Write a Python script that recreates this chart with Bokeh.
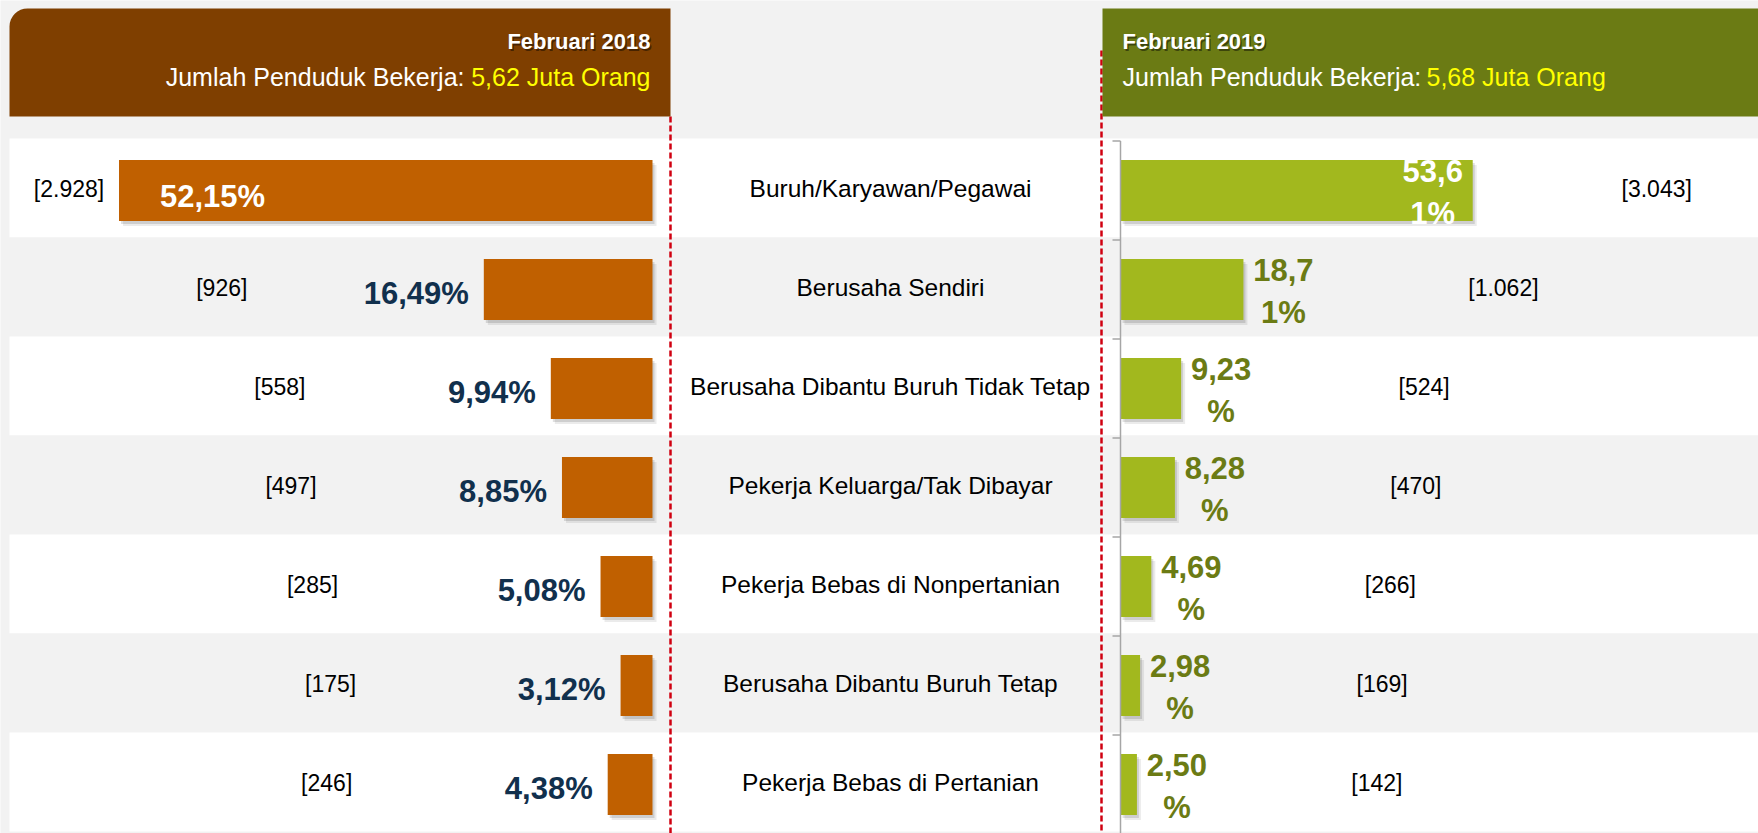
import numpy as np
from bokeh.plotting import figure
from bokeh.models import Range1d, ColumnDataSource
from bokeh.core.properties import value
from bokeh.embed import file_html
from bokeh.resources import INLINE

# ---------------- data ----------------
categories = [
    "Buruh/Karyawan/Pegawai",
    "Berusaha Sendiri",
    "Berusaha Dibantu Buruh Tidak Tetap",
    "Pekerja Keluarga/Tak Dibayar",
    "Pekerja Bebas di Nonpertanian",
    "Berusaha Dibantu Buruh Tetap",
    "Pekerja Bebas di Pertanian",
]
pct_2018 = [52.15, 16.49, 9.94, 8.85, 5.08, 3.12, 4.38]
workers_2018 = [2928, 926, 558, 497, 285, 175, 246]   # ribu orang
pct_2019 = [53.61, 18.71, 9.23, 8.28, 4.69, 2.98, 2.50]
workers_2019 = [3043, 1062, 524, 470, 266, 169, 142]  # ribu orang
period_2018 = "Februari 2018"
period_2019 = "Februari 2019"
head_label = "Jumlah Penduduk Bekerja:"
total_2018 = "5,62 Juta Orang"
total_2019 = "5,68 Juta Orang"

# label placement (screen px offsets from the bar end)
cnt_off_2018 = [-50, -262, -271, -271, -288, -290, -281]
cnt_off_2019 = [184, 260, 243, 241, 239, 242, 240]

# ---------------- layout ----------------
W, H = 1758, 833
ZERO_L, SCALE_L = 652, 10.23
ZERO_R, SCALE_R = 1120, 6.57
ROW0, ROW_H = 190, 99.0
BAR_H = 0.616

FONT = value("Liberation Sans")

def left_range(shift=0):
    z = ZERO_L + shift
    return Range1d(start=z / SCALE_L, end=(z - W) / SCALE_L)

def right_range(shift=0):
    z = ZERO_R + shift
    return Range1d(start=-z / SCALE_R, end=(W - z) / SCALE_R)

def row_range(shift=0):
    r0 = ROW0 + shift
    return Range1d(start=(H - r0) / ROW_H, end=-r0 / ROW_H)

p = figure(width=W, height=H, x_range=Range1d(0, W), y_range=Range1d(H, 0),
           output_backend="svg", toolbar_location=None, min_border=0,
           x_axis_type=None, y_axis_type=None,
           background_fill_color="#f2f2f2", border_fill_color="#f2f2f2",
           outline_line_color=None)
p.grid.visible = False
p.extra_x_ranges = {"lx": left_range(), "lx1": left_range(2), "lx2": left_range(4),
                    "rx": right_range(), "rx1": right_range(2), "rx2": right_range(4)}
p.extra_y_ranges = {"row": row_range(), "row1": row_range(3), "row2": row_range(5),
                    "band": row_range(-2.5)}

n = len(categories)
idx = list(range(n))

def fmt_pct(v):
    return f"{v:.2f}".replace(".", ",") + "%"

def fmt_cnt(v):
    return "[" + f"{v:,}".replace(",", ".") + "]"

# row bands
band = ColumnDataSource(dict(y=idx, c=["#ffffff" if i % 2 == 0 else "#f2f2f2" for i in idx]))
p.hbar(y="y", height=1, left=9, right=W, fill_color="c", line_color=None,
       source=band, y_range_name="band")

# red dashed separators
p.segment(x0=[670], x1=[670], y0=[116], y1=[H], line_color="#d00010",
          line_width=2.5, line_dash="6 3")
p.segment(x0=[1101], x1=[1101], y0=[50], y1=[H], line_color="#d00010",
          line_width=2.5, line_dash="6 3")

# headers
p.quad(left=[9], right=[670], top=[8], bottom=[116], fill_color="#7f3f00",
       line_color=None, border_radius=dict(top_left=18, top_right=0, bottom_right=0, bottom_left=0))
p.quad(left=[1102], right=[W], top=[8], bottom=[116], fill_color="#6b7b14",
       line_color=None)

def txt(x, y, s, color, size, bold=False, align="left", shadow=False):
    style = "bold" if bold else "normal"
    if shadow:
        p.text(x=[x], y=[y], text=[s], text_color="#000000", text_alpha=0.45,
               text_font=FONT, text_font_size=size, text_font_style=style,
               text_align=align, text_baseline="middle", x_offset=1.5, y_offset=1.5)
    p.text(x=[x], y=[y], text=[s], text_color=color,
           text_font=FONT, text_font_size=size, text_font_style=style,
           text_align=align, text_baseline="middle")

txt(650, 41, period_2018, "#ffffff", "22px", bold=True, align="right", shadow=True)
txt(464, 76, head_label, "#ffffff", "25px", align="right")
txt(650, 76, total_2018, "#ffff00", "25px", align="right")
txt(1122, 41, period_2019, "#ffffff", "22px", bold=True, align="left", shadow=True)
txt(1122, 76, head_label, "#ffffff", "25px", align="left")
txt(1426, 76, total_2019, "#ffff00", "25px", align="left")

# bars with soft shadows
src18 = ColumnDataSource(dict(y=idx, v=pct_2018))
src19 = ColumnDataSource(dict(y=idx, v=pct_2019))
for xr, yr, a in (("lx2", "row2", 0.08), ("lx1", "row1", 0.12)):
    p.hbar(y="y", height=BAR_H, left=0, right="v", source=src18, fill_color="#000000",
           fill_alpha=a, line_color=None, x_range_name=xr, y_range_name=yr)
for xr, yr, a in (("rx2", "row2", 0.08), ("rx1", "row1", 0.12)):
    p.hbar(y="y", height=BAR_H, left=0, right="v", source=src19, fill_color="#000000",
           fill_alpha=a, line_color=None, x_range_name=xr, y_range_name=yr)
p.hbar(y="y", height=BAR_H, left=0, right="v", source=src18, fill_color="#c06000",
       line_color=None, x_range_name="lx", y_range_name="row")
p.hbar(y="y", height=BAR_H, left=0, right="v", source=src19, fill_color="#a2b81e",
       line_color=None, x_range_name="rx", y_range_name="row")

# right category axis
ticks = [i - 0.5 for i in range(n + 1)]
p.segment(x0=[0], x1=[0], y0=[ticks[0]], y1=[ticks[-1]], line_color="#a6a6a6", line_width=1.5,
          x_range_name="rx", y_range_name="row")
p.ray(x=[0] * len(ticks), y=ticks, length=8, angle=np.pi, length_units="screen",
      line_color="#a6a6a6", line_width=1.5, x_range_name="rx", y_range_name="row")

# category names
p.text(x=[890] * n, y=idx, text=categories, text_font=FONT, text_font_size="24.5px",
       text_color="#000000", text_align="center", text_baseline="middle", y_offset=-2,
       y_range_name="row")

# 2018 labels
inside18 = [i for i in idx if pct_2018[i] > 30]
outside18 = [i for i in idx if pct_2018[i] <= 30]
p.text(x=[pct_2018[i] for i in outside18], y=outside18, text=[fmt_pct(pct_2018[i]) for i in outside18],
       text_font=FONT, text_font_style="bold", text_font_size="31px", text_color="#11304d",
       text_align="right", text_baseline="middle", x_offset=-15, y_offset=4,
       x_range_name="lx", y_range_name="row")
p.text(x=[pct_2018[i] for i in inside18], y=inside18, text=[fmt_pct(pct_2018[i]) for i in inside18],
       text_font=FONT, text_font_style="bold", text_font_size="31px", text_color="#ffffff",
       text_align="left", text_baseline="middle", x_offset=41, y_offset=6,
       x_range_name="lx", y_range_name="row")
cnt18 = ColumnDataSource(dict(x=pct_2018, y=idx, t=[fmt_cnt(v) for v in workers_2018], o=cnt_off_2018))
p.text(x="x", y="y", text="t", x_offset="o", source=cnt18, text_font=FONT, text_font_size="23px",
       text_color="#000000", text_align="center", text_baseline="middle", y_offset=-2,
       x_range_name="lx", y_range_name="row")

# 2019 labels (wrapped into two lines like the source)
def wrap(s):
    return s[:4], s[4:]
inside19 = [i for i in idx if pct_2019[i] > 30]
outside19 = [i for i in idx if pct_2019[i] <= 30]
for group, xo, col in ((outside19, 40, "#6b7b14"), (inside19, -40, "#ffffff")):
    for part, yo in ((0, -20), (1, 23)):
        p.text(x=[pct_2019[i] for i in group], y=group,
               text=[wrap(fmt_pct(pct_2019[i]))[part] for i in group],
               text_font=FONT, text_font_style="bold", text_font_size="31px", text_color=col,
               text_align="center", text_baseline="middle", x_offset=xo, y_offset=yo,
               x_range_name="rx", y_range_name="row")
cnt19 = ColumnDataSource(dict(x=pct_2019, y=idx, t=[fmt_cnt(v) for v in workers_2019], o=cnt_off_2019))
p.text(x="x", y="y", text="t", x_offset="o", source=cnt19, text_font=FONT, text_font_size="23px",
       text_color="#000000", text_align="center", text_baseline="middle", y_offset=-2,
       x_range_name="rx", y_range_name="row")

html = file_html(p, INLINE)
html = html.replace("<body>", '<body style="background-color:#f2f2f2;">', 1)
open("out.html", "w").write(html)
